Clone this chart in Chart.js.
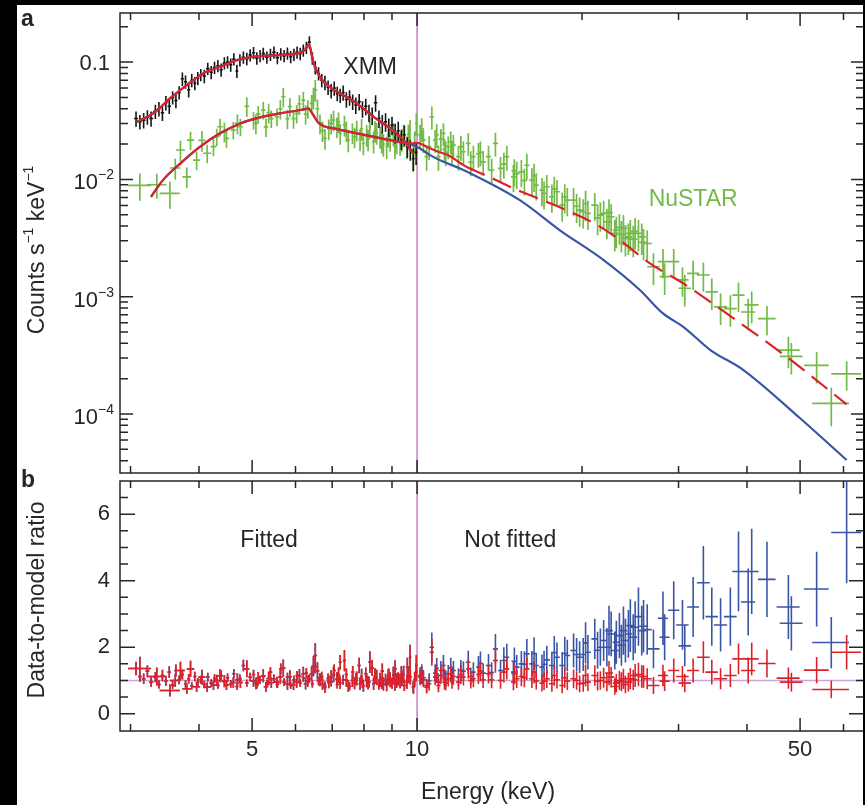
<!DOCTYPE html>
<html>
<head>
<meta charset="utf-8">
<script src="https://cdn.jsdelivr.net/npm/chart.js@4.4.0/dist/chart.umd.min.js"></script>
<style>
  html, body { margin: 0; padding: 0; background: #000; }
  #wrap { position: relative; width: 865px; height: 805px; overflow: hidden; background: #000; }
  #paper { position: absolute; left: 17px; top: 5px; width: 846px; height: 800px; background: #fff; }
  canvas { position: absolute; left: 0; }
  #top { top: 0; }
  #bottom { top: 460px; }
  #edge { position: absolute; left: 863px; top: 0; width: 2px; height: 805px; background: #000; }
</style>
</head>
<body>
<div id="wrap">
  <div id="paper"></div>
  <canvas id="top" width="865" height="480"></canvas>
  <canvas id="bottom" width="865" height="345"></canvas>
  <div id="edge"></div>
</div>
<script>
// ---- axes ----
const eMin = 2.87, eMax = 65.4;
const energyTicks = [3, 4, 5, 6, 7, 8, 9, 10, 20, 30, 40, 50, 60];
const energyLabels = [5, 10, 50];
const fitLimit = 10;          // keV, upper edge of the fitted band
const dashedAbove = 12.3;     // NuSTAR model drawn dashed above this energy

const rateMin = 3.14e-5, rateMax = 0.262;
const rateDecades = [1e-4, 1e-3, 1e-2, 1e-1];
const ratioMin = -0.52, ratioMax = 7;
const ratioLabels = [0, 2, 4, 6];

// ---- XMM spectrum (counts s-1 keV-1) ----
const xmmEnergy = [
  3.07, 3.12, 3.17, 3.22, 3.27, 3.33, 3.38, 3.43, 3.48, 3.53, 3.58, 3.63, 3.68, 3.73, 3.78, 3.83, 3.88, 3.93, 3.98,
  4.03, 4.09, 4.15, 4.21, 4.27, 4.33, 4.39, 4.45, 4.51, 4.57, 4.63,
  4.69, 4.75, 4.82, 4.89, 4.96,
  5.03, 5.10, 5.17, 5.24, 5.32, 5.40, 5.48, 5.56, 5.64, 5.72, 5.80, 5.88, 5.96,
  6.04, 6.12, 6.20, 6.28, 6.36, 6.44, 6.52, 6.61, 6.70, 6.79, 6.88, 6.97,
  7.06, 7.15, 7.24, 7.33, 7.43, 7.53, 7.63, 7.73, 7.84, 7.95,
  8.06, 8.17, 8.28, 8.40, 8.52, 8.64, 8.76, 8.88,
  9.00, 9.12, 9.24, 9.36, 9.48, 9.60, 9.72, 9.84, 9.96
];
const xmmRate = [
  0.033, 0.031, 0.032, 0.034, 0.033, 0.038, 0.040, 0.037, 0.045, 0.042, 0.050, 0.047, 0.055, 0.072, 0.068, 0.058, 0.070, 0.066, 0.073,
  0.078, 0.076, 0.088, 0.082, 0.090, 0.093, 0.086, 0.098, 0.100, 0.095, 0.106,
  0.084, 0.104, 0.110, 0.107, 0.115,
  0.120, 0.108, 0.113, 0.118, 0.110, 0.116, 0.121, 0.109, 0.117, 0.113, 0.119, 0.111, 0.116,
  0.121, 0.118, 0.126, 0.133, 0.148, 0.108, 0.090, 0.080, 0.070, 0.067, 0.061, 0.057,
  0.060, 0.054, 0.052, 0.055, 0.048, 0.050, 0.046, 0.043, 0.046, 0.040,
  0.042, 0.037, 0.035, 0.045, 0.033, 0.030, 0.031, 0.028,
  0.029, 0.025, 0.026, 0.022, 0.024, 0.019, 0.018, 0.015, 0.017
];
const xmmErr = [ // fractional 1-sigma
  0.15, 0.14, 0.15, 0.14, 0.15, 0.14, 0.14, 0.15, 0.14, 0.14, 0.13, 0.14, 0.13, 0.13, 0.13, 0.14, 0.13, 0.13, 0.13,
  0.12, 0.13, 0.12, 0.13, 0.12, 0.12, 0.13, 0.12, 0.12, 0.13, 0.12,
  0.13, 0.12, 0.12, 0.12, 0.12,
  0.12, 0.12, 0.12, 0.12, 0.12, 0.12, 0.12, 0.12, 0.12, 0.12, 0.12, 0.12, 0.12,
  0.12, 0.12, 0.12, 0.12, 0.12, 0.12, 0.13, 0.13, 0.13, 0.14, 0.14, 0.14,
  0.14, 0.14, 0.14, 0.15, 0.15, 0.15, 0.15, 0.16, 0.16, 0.16,
  0.16, 0.17, 0.17, 0.16, 0.17, 0.18, 0.18, 0.18,
  0.18, 0.19, 0.19, 0.19, 0.20, 0.20, 0.20, 0.22, 0.22
];
const xmmRatio = [ // same for both models (fitted band)
  1.36, 1.12, 1.05, 1.28, 0.95, 1.10, 0.88, 1.15, 0.98, 1.25, 0.86, 1.30, 1.02, 1.18, 0.90, 1.05, 0.84, 1.12, 0.95,
  1.02, 0.88, 1.10, 0.92, 1.06, 0.85, 1.15, 0.95, 1.08, 0.90, 1.20,
  0.82, 1.05, 1.45, 0.92, 1.10,
  1.18, 0.86, 1.02, 1.12, 0.90, 1.25, 1.05, 0.88, 1.35, 0.95, 1.10, 0.85, 1.02,
  1.15, 0.92, 1.08, 1.22, 1.05, 0.90, 1.40, 0.98, 1.12, 0.85, 1.06, 0.95,
  1.30, 0.88, 1.55, 1.02, 1.18, 0.82, 1.25, 1.05, 1.45, 0.92,
  1.20, 0.95, 1.38, 1.10, 0.88, 1.28, 1.02, 1.15,
  0.92, 1.35, 1.05, 1.20, 0.85, 1.40, 1.10, 0.80, 1.25
];

// ---- NuSTAR spectrum, module A ----
const nuEnergy = [
  3.12, 3.35, 3.54, 3.70, 3.80, 3.86, 3.96, 4.14, 4.25, 4.31,
  4.37, 4.49, 4.62, 4.76, 4.89, 5.03, 5.13, 5.24, 5.30, 5.42,
  5.55, 5.70, 5.86, 5.95, 6.03, 6.20, 6.32, 6.42, 6.52, 6.65,
  6.79, 6.90, 7.04, 7.14, 7.24, 7.37, 7.49, 7.62, 7.76, 7.87,
  7.98, 8.09, 8.20, 8.33, 8.44, 8.56, 8.68, 8.80, 8.93, 9.05,
  9.18, 9.31, 9.45, 9.58, 9.71, 9.85, 9.97,
  10.13, 10.27, 10.41, 10.64, 10.79, 10.94, 11.05, 11.17, 11.28, 11.40,
  11.52, 11.65, 11.90, 12.15, 12.40, 12.67, 12.94, 13.20, 13.50, 13.90,
  14.20, 14.58, 14.99, 15.20, 15.50, 15.86, 16.20, 16.50, 16.90, 17.25,
  17.62, 18.00, 18.40, 18.80, 19.30, 19.80, 20.10, 20.50, 21.10, 21.60,
  21.90, 22.20, 22.60, 22.95, 23.10, 23.40, 23.80, 24.00, 24.30, 24.50,
  25.00, 25.35, 25.70, 26.30, 27.00, 28.10, 28.30, 29.40, 30.50, 30.80,
  31.90, 33.30, 34.50, 35.80, 37.30, 38.60, 40.20, 40.80, 43.50, 47.60,
  48.20, 53.60, 57.00, 60.80
];
const nuRate = [
  0.0089, 0.0090, 0.0076, 0.0178, 0.0105, 0.0216, 0.0146, 0.0167, 0.0190, 0.0231,
  0.0281, 0.0224, 0.0263, 0.0281, 0.0420, 0.0320, 0.0360, 0.0390, 0.0280, 0.0330,
  0.0342, 0.0506, 0.0417, 0.0330, 0.0365, 0.0474, 0.0400, 0.0445, 0.0580, 0.0300,
  0.0224, 0.0270, 0.0320, 0.0280, 0.0247, 0.0290, 0.0216, 0.0250, 0.0263, 0.0220,
  0.0203, 0.0240, 0.0281, 0.0210, 0.0250, 0.0231, 0.0200, 0.0190, 0.0220, 0.0247,
  0.0210, 0.0203, 0.0240, 0.0190, 0.0263, 0.0156, 0.0300,
  0.0240, 0.0216, 0.0156, 0.0342, 0.0216, 0.0156, 0.0220, 0.0247, 0.0170, 0.0190,
  0.0210, 0.0196, 0.0156, 0.0172, 0.0203, 0.0156, 0.0165, 0.0141, 0.0156, 0.0203,
  0.0124, 0.0156, 0.0105, 0.0112, 0.0116, 0.0132, 0.00986, 0.00893, 0.0081, 0.00865,
  0.00711, 0.00784, 0.00604, 0.00665, 0.00665, 0.00547, 0.0053, 0.00513, 0.00604, 0.00496,
  0.00513, 0.00435, 0.0048, 0.00347, 0.0037, 0.0039, 0.00385, 0.00314, 0.00324, 0.00347,
  0.0036, 0.00347, 0.00324, 0.00284, 0.0018, 0.00199, 0.00148, 0.00199, 0.00139, 0.00118,
  0.00158, 0.00153, 0.0011, 0.00082, 0.00079, 0.00103, 0.00074, 0.00085, 0.00065, 0.00035,
  0.00031, 0.00026, 0.000123, 0.00022
];
const nuHalfWidth = [ // keV
  0.15, 0.14, 0.15, 0.07, 0.07, 0.06, 0.06, 0.07, 0.05, 0.05,
  0.05, 0.05, 0.05, 0.05, 0.05, 0.05, 0.05, 0.05, 0.05, 0.05,
  0.05, 0.05, 0.05, 0.05, 0.05, 0.05, 0.05, 0.05, 0.05, 0.05,
  0.05, 0.05, 0.05, 0.05, 0.05, 0.05, 0.05, 0.05, 0.05, 0.05,
  0.05, 0.05, 0.05, 0.05, 0.05, 0.05, 0.05, 0.05, 0.05, 0.05,
  0.05, 0.05, 0.05, 0.05, 0.05, 0.05, 0.05,
  0.10, 0.10, 0.10, 0.10, 0.10, 0.10, 0.10, 0.10, 0.10, 0.10,
  0.12, 0.12, 0.12, 0.12, 0.12, 0.12, 0.12, 0.15, 0.15, 0.15,
  0.15, 0.15, 0.15, 0.18, 0.18, 0.18, 0.18, 0.18, 0.18, 0.22,
  0.22, 0.22, 0.22, 0.22, 0.26, 0.26, 0.26, 0.26, 0.30, 0.32,
  0.32, 0.32, 0.32, 0.35, 0.35, 0.35, 0.38, 0.38, 0.38, 0.40,
  0.42, 0.45, 0.45, 0.50, 0.70, 0.60, 0.60, 0.70, 0.80, 0.80,
  0.80, 0.90, 0.90, 1.00, 1.00, 1.00, 1.20, 1.20, 1.60, 2.30,
  2.30, 2.80, 4.40, 3.80
];
const nuErr = [ // fractional 1-sigma
  0.26, 0.24, 0.26, 0.20, 0.20, 0.18, 0.18, 0.18, 0.17, 0.17,
  0.17, 0.17, 0.17, 0.17, 0.19, 0.17, 0.17, 0.17, 0.18, 0.17,
  0.17, 0.19, 0.18, 0.18, 0.18, 0.18, 0.18, 0.18, 0.21, 0.19,
  0.20, 0.20, 0.20, 0.20, 0.20, 0.20, 0.21, 0.20, 0.20, 0.21,
  0.21, 0.21, 0.21, 0.21, 0.21, 0.21, 0.22, 0.22, 0.22, 0.22,
  0.22, 0.22, 0.22, 0.22, 0.22, 0.24, 0.22,
  0.22, 0.22, 0.24, 0.22, 0.22, 0.24, 0.22, 0.22, 0.24, 0.22,
  0.22, 0.22, 0.24, 0.23, 0.22, 0.24, 0.24, 0.24, 0.24, 0.23,
  0.25, 0.24, 0.26, 0.26, 0.26, 0.25, 0.26, 0.26, 0.27, 0.26,
  0.27, 0.26, 0.28, 0.27, 0.27, 0.28, 0.28, 0.28, 0.27, 0.28,
  0.28, 0.29, 0.28, 0.30, 0.30, 0.29, 0.29, 0.30, 0.30, 0.30,
  0.30, 0.30, 0.30, 0.30, 0.30, 0.28, 0.30, 0.28, 0.28, 0.30,
  0.28, 0.28, 0.30, 0.30, 0.30, 0.28, 0.30, 0.30, 0.28, 0.30,
  0.30, 0.30, 0.36, 0.28
];
const nuRatioRed = [
  1.36, 1.12, 0.70, 1.30, 0.75, 1.35, 0.81, 0.80, 0.86, 1.00,
  1.14, 0.86, 0.94, 0.94, 1.35, 0.98, 1.07, 1.14, 0.81, 0.93,
  0.95, 1.37, 1.11, 0.87, 0.95, 1.20, 0.99, 1.20, 1.75, 1.02,
  0.79, 0.96, 1.18, 1.04, 0.93, 1.60, 0.84, 1.00, 1.06, 0.90,
  0.84, 1.01, 1.55, 0.90, 1.09, 1.02, 0.90, 0.87, 1.02, 1.16,
  1.00, 0.98, 1.18, 0.95, 1.70, 0.79, 1.45,
  1.10, 1.02, 0.80, 1.85, 1.10, 0.85, 1.15, 1.30, 0.92, 1.05,
  1.20, 1.12, 0.95, 1.10, 1.35, 1.05, 1.18, 1.02, 1.20, 1.60,
  1.00, 1.35, 0.95, 1.05, 1.12, 1.35, 1.05, 0.98, 0.92, 1.05,
  0.90, 1.02, 0.85, 0.98, 1.05, 0.90, 0.92, 0.95, 1.15, 1.00,
  1.08, 0.95, 1.10, 0.82, 0.92, 1.00, 1.05, 0.88, 0.95, 1.05,
  1.15, 1.18, 1.12, 1.05, 0.85, 1.15, 0.98, 1.30, 1.12, 0.92,
  1.30, 1.70, 1.25, 1.05, 1.15, 1.65, 1.30, 1.65, 1.51, 1.07,
  0.95, 1.31, 0.73, 1.85
];
const nuRatioBlue = [
  1.36, 1.12, 0.70, 1.30, 0.75, 1.35, 0.81, 0.80, 0.86, 1.00,
  1.14, 0.86, 0.94, 0.94, 1.35, 0.98, 1.07, 1.14, 0.81, 0.93,
  0.95, 1.37, 1.11, 0.87, 0.95, 1.20, 0.99, 1.20, 1.75, 1.02,
  0.79, 0.96, 1.18, 1.04, 0.93, 1.60, 0.84, 1.00, 1.06, 0.90,
  0.84, 1.01, 1.55, 0.90, 1.09, 1.02, 0.90, 0.87, 1.02, 1.16,
  1.00, 0.98, 1.18, 0.95, 1.70, 0.79, 1.45,
  1.15, 1.08, 0.85, 2.00, 1.22, 0.95, 1.30, 1.45, 1.05, 1.20,
  1.38, 1.30, 1.10, 1.28, 1.55, 1.25, 1.40, 1.22, 1.45, 1.95,
  1.30, 1.70, 1.25, 1.40, 1.50, 1.80, 1.50, 1.45, 1.40, 1.62,
  1.45, 1.70, 1.45, 1.75, 1.90, 1.70, 1.78, 1.85, 2.25, 2.00,
  2.20, 2.00, 2.40, 1.90, 2.15, 2.35, 2.50, 2.20, 2.40, 2.65,
  2.60, 2.92, 2.50, 2.53, 1.95, 2.87, 2.30, 3.11, 2.67, 2.04,
  3.21, 3.94, 2.92, 2.67, 2.92, 4.28, 3.36, 4.28, 4.04, 3.21,
  2.72, 3.75, 2.14, 5.45
];

// ---- NuSTAR spectrum, module B ----
const nuBEnergy = [
  3.62, 4.05, 4.45, 4.70,
  5.08, 5.36, 5.63, 5.80, 6.10, 6.26, 6.47, 6.58, 6.72, 6.97,
  7.19, 7.43, 7.69, 7.92, 8.14, 8.38, 8.62, 8.86, 9.11, 9.38, 9.64, 9.90,
  10.20, 10.52, 10.86, 11.22, 11.58, 12.02, 12.53, 13.05, 13.68, 14.40,
  15.05, 15.70, 16.35, 17.05, 17.80, 18.60, 19.55, 20.30, 21.35, 22.40,
  23.60, 24.80, 25.90
];
const nuBRate = [
  0.0125, 0.0215, 0.0255, 0.0300,
  0.030, 0.037, 0.040, 0.033, 0.044, 0.036, 0.050, 0.040, 0.026, 0.030,
  0.031, 0.026, 0.023, 0.027, 0.022, 0.026, 0.021, 0.024, 0.019, 0.022, 0.024, 0.021,
  0.027, 0.019, 0.024, 0.018, 0.017, 0.019, 0.014, 0.017, 0.012, 0.0135,
  0.0118, 0.0098, 0.0107, 0.0076, 0.0083, 0.0071, 0.0059, 0.0062, 0.0047, 0.0052,
  0.0034, 0.0031, 0.0029
];
const nuBHalfWidth = [
  0.08, 0.06, 0.05, 0.05,
  0.05, 0.05, 0.05, 0.05, 0.05, 0.05, 0.05, 0.05, 0.05, 0.05,
  0.05, 0.05, 0.05, 0.05, 0.05, 0.05, 0.05, 0.05, 0.05, 0.05, 0.05, 0.05,
  0.10, 0.10, 0.10, 0.10, 0.10, 0.14, 0.14, 0.14, 0.14, 0.14,
  0.18, 0.18, 0.18, 0.18, 0.24, 0.24, 0.24, 0.24, 0.34, 0.36,
  0.40, 0.42, 0.45
];
const nuBErr = [
  0.20, 0.20, 0.19, 0.19,
  0.19, 0.19, 0.19, 0.19, 0.19, 0.19, 0.21, 0.20, 0.20, 0.20,
  0.20, 0.20, 0.20, 0.21, 0.21, 0.21, 0.21, 0.22, 0.22, 0.22, 0.22, 0.22,
  0.23, 0.23, 0.23, 0.23, 0.23, 0.24, 0.24, 0.24, 0.25, 0.25,
  0.26, 0.26, 0.27, 0.27, 0.27, 0.28, 0.28, 0.29, 0.29, 0.30,
  0.30, 0.30, 0.30
];
const nuBRatioRed = [
  1.00, 1.10, 0.98, 1.02,
  0.91, 1.06, 1.10, 0.89, 1.13, 0.90, 1.43, 1.29, 0.90, 1.09,
  1.16, 1.01, 0.92, 1.12, 0.93, 1.13, 0.94, 1.10, 0.89, 1.06, 1.17, 1.03,
  1.15, 0.90, 1.20, 0.95, 0.98, 1.18, 1.00, 1.28, 1.02, 1.25,
  1.20, 1.08, 1.25, 0.98, 1.15, 1.08, 1.00, 1.15, 0.98, 1.22,
  0.96, 1.02, 1.12
];
const nuBRatioBlue = [
  1.00, 1.10, 0.98, 1.02,
  0.91, 1.06, 1.10, 0.89, 1.13, 0.90, 1.43, 1.29, 0.90, 1.09,
  1.16, 1.01, 0.92, 1.12, 0.93, 1.13, 0.94, 1.10, 0.89, 1.06, 1.17, 1.03,
  1.21, 0.99, 1.36, 1.09, 1.15, 1.30, 1.12, 1.51, 1.24, 1.60,
  1.58, 1.49, 1.81, 1.49, 1.84, 1.81, 1.78, 2.13, 1.91, 2.50,
  2.06, 2.30, 2.63
];

// ---- folded models ----
const xmmModelEnergy = [3.08, 3.30, 3.54, 3.80, 4.07, 4.37, 4.69, 5.03, 5.47, 5.86, 6.12, 6.25, 6.35, 6.45, 6.55, 6.70, 6.85, 7.0, 7.24, 7.76, 8.32, 8.93, 9.44, 9.85];
const xmmModel = [0.031, 0.0365, 0.049, 0.0637, 0.080, 0.0912, 0.104, 0.111, 0.114, 0.116, 0.120, 0.128, 0.142, 0.105, 0.085, 0.071, 0.064, 0.059, 0.0541, 0.0445, 0.0342, 0.0272, 0.0216, 0.0165];

const nuRedEnergy = [3.27, 3.44, 3.70, 4.02, 4.37, 4.76, 5.17, 5.62, 6.12, 6.25, 6.33, 6.45, 6.60, 6.75, 7.04, 7.76, 8.93, 9.83, 10.0, 10.5, 11.0, 11.35, 12.3, 13.5, 14.77, 17.0, 19.0, 21.6, 24.1, 26.6, 30.6, 37.8, 47.2, 60.8];
const nuRedModel = [0.0071, 0.0099, 0.0137, 0.0190, 0.0247, 0.0300, 0.0338, 0.0365, 0.0390, 0.0397, 0.0403, 0.0360, 0.0305, 0.0285, 0.0272, 0.0247, 0.0216, 0.0203, 0.0205, 0.0186, 0.0170, 0.0162, 0.0128, 0.0106, 0.00865, 0.0066, 0.0053, 0.00394, 0.00275, 0.00192, 0.00130, 0.000653, 0.000308, 0.000121];
const nuBlueEnergy = [3.27, 3.44, 3.70, 4.02, 4.37, 4.76, 5.17, 5.62, 6.12, 6.25, 6.33, 6.45, 6.60, 6.75, 7.04, 7.76, 8.93, 9.83, 10.0, 10.56, 11.17, 11.98, 12.5, 15.4, 18.2, 21.9, 25.5, 28.1, 30.6, 34.3, 39.4, 50.0, 60.8];
const nuBlueModel = [0.0071, 0.0099, 0.0137, 0.0190, 0.0247, 0.0300, 0.0338, 0.0365, 0.0390, 0.0397, 0.0403, 0.0360, 0.0305, 0.0285, 0.0272, 0.0247, 0.0216, 0.0196, 0.0190, 0.0161, 0.0141, 0.0124, 0.0113, 0.00665, 0.0037, 0.00205, 0.00114, 0.00072, 0.000554, 0.000351, 0.000237, 0.000092, 0.0000405];

// ---- styling ----
const FAMILY = '"Liberation Sans", Arial, Helvetica, sans-serif';
const INK = '#262626';
const BLACK = '#151515';
const GREEN = '#74ba48';
const RED = '#dc2229';
const BLUE = '#3a55a5';
const FIT_LINE = '#c97cc9';
const UNITY = '#c9a3d9';

[[xmmEnergy, xmmRate, xmmErr, xmmRatio],
 [nuEnergy, nuRate, nuHalfWidth, nuErr, nuRatioRed, nuRatioBlue],
 [nuBEnergy, nuBRate, nuBHalfWidth, nuBErr, nuBRatioRed, nuBRatioBlue]]
  .forEach(g => g.forEach(a => { if (a.length !== g[0].length) throw new Error('length mismatch ' + a.length + ' vs ' + g[0].length); }));

// contiguous XMM bins: edges half-way to neighbouring channels
const xmmEdges = xmmEnergy.map((e, i, E) => {
  const lo = i > 0 ? (e - E[i - 1]) / 2 : (E[1] - e) / 2;
  const hi = i < E.length - 1 ? (E[i + 1] - e) / 2 : (e - E[i - 1]) / 2;
  return [e - lo, e + hi];
});
const nuEdges = nuEnergy.map((e, i) => [e - nuHalfWidth[i], e + nuHalfWidth[i]]);
const nuBEdges = nuBEnergy.map((e, i) => [e - nuBHalfWidth[i], e + nuBHalfWidth[i]]);

const crossPoints = (E, edges, val, frac) => E.map((e, i) => ({
  x: e, y: val[i], xl: edges[i][0], xh: edges[i][1],
  yl: val[i] * (1 - frac[i]), yh: val[i] * (1 + frac[i])
}));
const xy = (E, v) => E.map((e, i) => ({ x: e, y: v[i] }));

const crossDataset = (data, color, order, width) => ({
  data, crosses: true, crossWidth: width || 1.6, borderColor: color, backgroundColor: color,
  pointRadius: 0, showLine: false, order
});
const lineDataset = (data, color, order, extra) => Object.assign({
  type: 'line', data, borderColor: color, borderWidth: 2.2, pointRadius: 0,
  fill: false, cubicInterpolationMode: 'monotone', order
}, extra || {});

// ---- plugins ----
const crossPlugin = {
  id: 'crosses',
  afterDatasetDraw(chart, args) {
    const ds = chart.data.datasets[args.index];
    if (!ds.crosses) return;
    const { ctx, chartArea: a, scales: { x, y } } = chart;
    ctx.save();
    ctx.beginPath();
    ctx.rect(a.left, a.top, a.right - a.left, a.bottom - a.top);
    ctx.clip();
    ctx.strokeStyle = ds.borderColor;
    ctx.lineWidth = ds.crossWidth;
    ctx.beginPath();
    ds.data.forEach(p => {
      const px = x.getPixelForValue(p.x), py = y.getPixelForValue(p.y);
      ctx.moveTo(x.getPixelForValue(p.xl), py);
      ctx.lineTo(x.getPixelForValue(p.xh), py);
      ctx.moveTo(px, y.getPixelForValue(p.yl));
      ctx.lineTo(px, y.getPixelForValue(p.yh));
    });
    ctx.stroke();
    ctx.restore();
  }
};

function framePlugin(yTicks, unity, labels) {
  return {
    id: 'frame',
    beforeDatasetsDraw(chart) {
      const { ctx, chartArea: a, scales: { x, y } } = chart;
      ctx.save();
      ctx.lineWidth = 1.5;
      if (unity) {
        const py = y.getPixelForValue(1);
        ctx.strokeStyle = UNITY;
        ctx.beginPath(); ctx.moveTo(a.left, py); ctx.lineTo(a.right, py); ctx.stroke();
      }
      const fx = x.getPixelForValue(fitLimit);
      ctx.strokeStyle = FIT_LINE;
      ctx.beginPath(); ctx.moveTo(fx, a.top); ctx.lineTo(fx, a.bottom); ctx.stroke();
      ctx.restore();
    },
    afterDraw(chart) {
      const { ctx, chartArea: a, scales: { x, y } } = chart;
      ctx.save();
      ctx.strokeStyle = INK;
      ctx.lineWidth = 1.5;
      ctx.beginPath();
      energyTicks.forEach(v => {
        const px = x.getPixelForValue(v);
        const len = energyLabels.includes(v) ? 13 : 7;
        ctx.moveTo(px, a.top); ctx.lineTo(px, a.top + len);
        ctx.moveTo(px, a.bottom); ctx.lineTo(px, a.bottom - len);
      });
      yTicks.forEach(t => {
        const py = y.getPixelForValue(t.v);
        if (py < a.top + 2 || py > a.bottom - 2) return;
        ctx.moveTo(a.left, py); ctx.lineTo(a.left + t.len, py);
        ctx.moveTo(a.right, py); ctx.lineTo(a.right - t.len, py);
      });
      ctx.stroke();
      ctx.strokeRect(a.left, a.top, a.right - a.left, a.bottom - a.top);
      ctx.restore();
      if (labels) labels(chart);
    }
  };
}

// text with superscripts: parts = [[text, isSup], ...]
function drawRich(ctx, parts, x, y, align, size, supSize, raise) {
  const widths = parts.map(([t, sup]) => {
    ctx.font = `${sup ? supSize : size}px ${FAMILY}`;
    return ctx.measureText(t).width;
  });
  const total = widths.reduce((s, w) => s + w, 0);
  let cx = align === 'right' ? x - total : align === 'center' ? x - total / 2 : x;
  ctx.textAlign = 'left';
  ctx.textBaseline = 'alphabetic';
  parts.forEach(([t, sup], i) => {
    ctx.font = `${sup ? supSize : size}px ${FAMILY}`;
    ctx.fillText(t, cx, sup ? y - raise : y);
    cx += widths[i];
  });
}

function labelText(ctx, text, px, py, opts) {
  ctx.font = `${opts.weight || ''} ${opts.size}px ${FAMILY}`;
  ctx.fillStyle = opts.color || INK;
  ctx.textAlign = opts.align || 'center';
  ctx.textBaseline = opts.baseline || 'middle';
  ctx.fillText(text, px, py);
}

// ---- panel a ----
const rateTicks = [];
for (let k = -5; k <= -1; k++) {
  for (let m = 1; m <= 9; m++) rateTicks.push({ v: m * Math.pow(10, k), len: m === 1 ? 13 : 8 });
}

function topLabels(chart) {
  const { ctx, scales: { x, y } } = chart;
  ctx.save();
  ctx.fillStyle = INK;
  rateDecades.forEach(v => {
    const py = y.getPixelForValue(v);
    const exp = Math.round(Math.log10(v));
    if (exp === -1) {
      ctx.font = `22px ${FAMILY}`;
      ctx.textAlign = 'right'; ctx.textBaseline = 'alphabetic';
      ctx.fillText('0.1', 110, py + 8);
    } else {
      drawRich(ctx, [['10', false], ['\u2212' + Math.abs(exp), true]], 114, py + 10, 'right', 22, 14, 10);
    }
  });
  // y title
  ctx.save();
  ctx.translate(44, 250);
  ctx.rotate(-Math.PI / 2);
  drawRich(ctx, [['Counts s', false], ['\u22121', true], [' keV', false], ['\u22121', true]], 0, 0, 'center', 23, 14, 11);
  ctx.restore();
  labelText(ctx, 'XMM', x.getPixelForValue(8.21), y.getPixelForValue(0.0889), { size: 23 });
  labelText(ctx, 'NuSTAR', x.getPixelForValue(31.9), y.getPixelForValue(0.00667), { size: 23, color: GREEN });
  labelText(ctx, 'a', 21, 26, { size: 23, weight: 'bold', align: 'left', baseline: 'alphabetic' });
  ctx.restore();
}

new Chart(document.getElementById('top'), {
  type: 'scatter',
  data: {
    datasets: [
      crossDataset(crossPoints(nuEnergy, nuEdges, nuRate, nuErr)
        .concat(crossPoints(nuBEnergy, nuBEdges, nuBRate, nuBErr)), GREEN, 6, 1.7),
      crossDataset(crossPoints(xmmEnergy, xmmEdges, xmmRate, xmmErr), BLACK, 5, 1.6),
      lineDataset(xy(nuBlueEnergy, nuBlueModel), BLUE, 4),
      lineDataset(xy(nuRedEnergy, nuRedModel), RED, 3, {
        segment: { borderDash: c => (c.p0.parsed.x >= dashedAbove ? [20, 9] : undefined) }
      }),
      lineDataset(xy(xmmModelEnergy, xmmModel), BLUE, 2),
      lineDataset(xy(xmmModelEnergy, xmmModel), RED, 1)
    ]
  },
  options: {
    responsive: false, animation: false, devicePixelRatio: 1, events: [],
    layout: { padding: { left: 120, top: 13, right: 1, bottom: 7 } },
    plugins: { legend: { display: false }, tooltip: { enabled: false } },
    scales: {
      x: { type: 'logarithmic', min: eMin, max: eMax, display: false },
      y: { type: 'logarithmic', min: rateMin, max: rateMax, display: false }
    }
  },
  plugins: [crossPlugin, framePlugin(rateTicks, false, topLabels)]
});

// ---- panel b ----
const ratioTicks = [];
for (let v = -0.5; v <= 7; v += 0.5) ratioTicks.push({ v, len: ratioLabels.includes(v) ? 15 : 8 });

function bottomLabels(chart) {
  const { ctx, scales: { x, y } } = chart;
  ctx.save();
  labelText(ctx, 'Fitted', x.getPixelForValue(5.37), y.getPixelForValue(5.2), { size: 23 });
  labelText(ctx, 'Not fitted', x.getPixelForValue(14.8), y.getPixelForValue(5.2), { size: 23 });
  labelText(ctx, 'Energy (keV)', 488, 339, { size: 23, baseline: 'alphabetic' });
  labelText(ctx, 'b', 21, 27, { size: 23, weight: 'bold', align: 'left', baseline: 'alphabetic' });
  ctx.translate(44, 140);
  ctx.rotate(-Math.PI / 2);
  labelText(ctx, 'Data-to-model ratio', 0, 0, { size: 23, baseline: 'alphabetic' });
  ctx.restore();
}

const ratioPoints = (E, edges, r, frac) => E.map((e, i) => ({
  x: e, y: r[i], xl: edges[i][0], xh: edges[i][1],
  yl: r[i] * (1 - frac[i]), yh: r[i] * (1 + frac[i])
}));

const tickFont = { family: FAMILY, size: 22, lineHeight: 1 };

new Chart(document.getElementById('bottom'), {
  type: 'scatter',
  data: {
    datasets: [
      crossDataset(ratioPoints(xmmEnergy, xmmEdges, xmmRatio, xmmErr)
        .concat(ratioPoints(nuEnergy, nuEdges, nuRatioBlue, nuErr))
        .concat(ratioPoints(nuBEnergy, nuBEdges, nuBRatioBlue, nuBErr)), BLUE, 2),
      crossDataset(ratioPoints(xmmEnergy, xmmEdges, xmmRatio, xmmErr)
        .concat(ratioPoints(nuEnergy, nuEdges, nuRatioRed, nuErr))
        .concat(ratioPoints(nuBEnergy, nuBEdges, nuBRatioRed, nuBErr)), RED, 1)
    ]
  },
  options: {
    responsive: false, animation: false, devicePixelRatio: 1, events: [],
    layout: { padding: { left: 0, top: 13, right: 1, bottom: 0 } },
    plugins: { legend: { display: false }, tooltip: { enabled: false } },
    scales: {
      x: {
        type: 'logarithmic', min: eMin, max: eMax,
        afterBuildTicks: s => { s.ticks = energyTicks.map(v => ({ value: v })); },
        afterFit: s => { s.height = 74; },
        ticks: {
          autoSkip: false, maxRotation: 0, padding: 8, color: INK, font: tickFont,
          callback: v => (energyLabels.includes(v) ? String(v) : '')
        },
        grid: { display: false, drawTicks: false },
        border: { display: false }
      },
      y: {
        type: 'linear', min: ratioMin, max: ratioMax,
        afterBuildTicks: s => { s.ticks = ratioLabels.map(v => ({ value: v })); },
        afterFit: s => { s.width = 120; },
        ticks: { padding: 10, color: INK, font: tickFont },
        grid: { display: false, drawTicks: false },
        border: { display: false }
      }
    }
  },
  plugins: [crossPlugin, framePlugin(ratioTicks, true, bottomLabels)]
});
</script>
</body>
</html>
